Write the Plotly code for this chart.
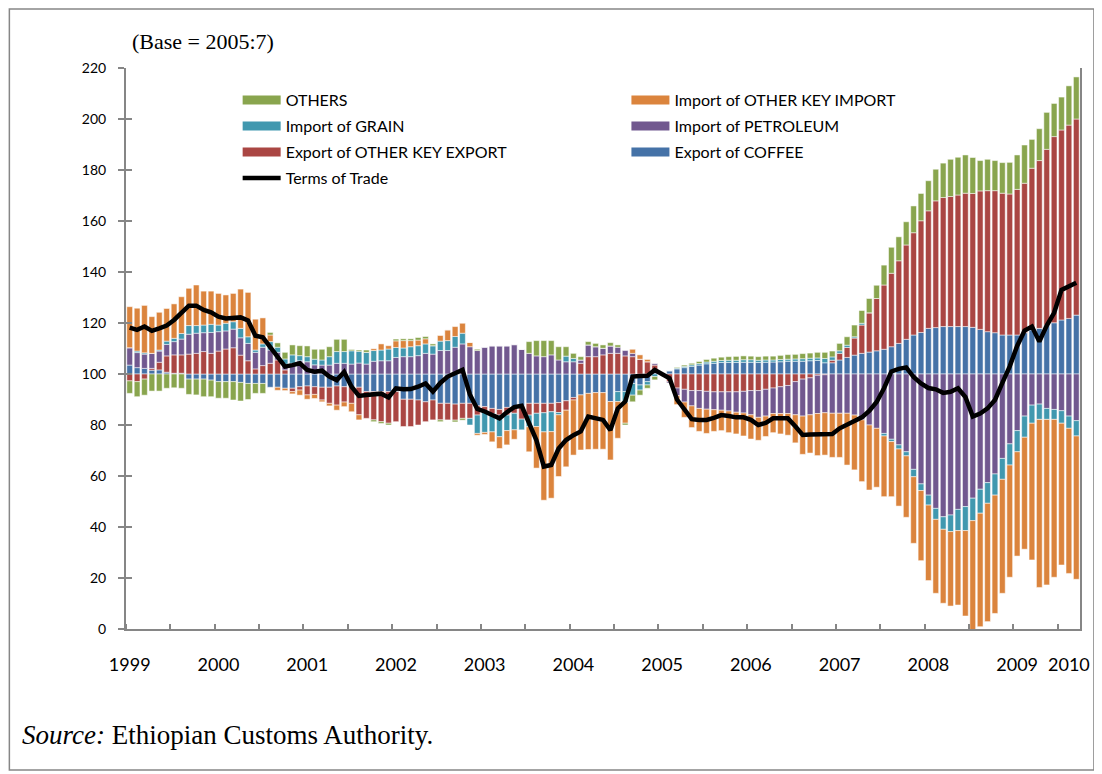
import plotly.graph_objects as go

# Monthly contributions to Terms of Trade (index points), 1999:7 .. 2010:3
coffee = [3.5, 2.5, 2.2, 1.5, 1.6, 0.7, 0.3, 0.3, -2.0, -2.0, -2.0, -2.4, -3.0, -3.0, -3.0, -3.3, -3.7, -3.7, -3.7, -5.2,
          -5.2, -5.6, -5.6, -5.0, -4.7, -5.0, -5.2, -5.2, -4.7, -5.0, -5.0, -5.2, -6.9, -6.9, -6.9, -6.9, -6.9, -9.9, -9.9, -10.2,
          -10.9, -10.2, -11.5, -11.5, -11.8, -11.5, -11.5, -12.5, -12.8, -13.5, -13.9, -13.1, -12.8, -12.5, -11.5, -11.5, -11.5, -11.5, -11.2, -10.5,
          -9.2, -8.2, -7.6, -7.3, -7.3, -10.8, -6.9, -6.9, -3.7, -4.3, -3.0, 0.5, 0.0, 1.2, 2.0, 2.5, 3.0, 3.5, 4.0, 4.2,
          4.5, 4.5, 4.5, 4.6, 4.6, 4.5, 4.6, 4.7, 4.8, 5.0, 5.0, 5.0, 5.2, 5.3, 4.4, 4.4, 5.5, 6.5, 7.4, 8.1,
          8.6, 9.1, 9.7, 10.7, 12.0, 13.6, 15.3, 16.3, 17.9, 18.2, 18.6, 18.6, 18.6, 18.6, 18.3, 17.5, 16.6, 16.2, 15.3, 15.3,
          15.3, 16.2, 17.3, 17.9, 19.2, 20.1, 21.2, 21.8, 23.1]
other_export = [-2.7, -3.0, -2.0, 0.7, 3.0, 6.4, 7.2, 7.2, 7.8, 8.1, 8.8, 8.1, 9.0, 9.8, 10.3, 7.4, 5.2, 2.0, 3.3, 4.2,
                5.5, 1.6, -1.3, -1.3, -3.5, -3.0, -5.0, -6.3, -7.5, -6.0, -6.5, -10.8, -10.5, -11.1, -11.8, -12.4, -11.8, -10.7, -10.7, -9.8,
                -7.8, -7.8, -6.5, -6.5, -6.3, -5.9, -5.9, -3.6, -1.6, -2.0, -2.2, -3.0, -2.6, -5.2, -4.6, -3.9, -3.7, -3.3, -3.9, -3.7,
                -1.0, 4.2, 6.8, 6.8, 7.5, 8.1, 8.1, 7.1, 6.8, 5.8, 4.8, 3.0, 0.0, -3.0, -5.5, -6.0, -6.5, -6.5, -6.8, -7.0,
                -7.0, -7.0, -7.0, -6.8, -6.5, -6.5, -6.0, -5.5, -5.0, -4.5, -3.0, -2.0, -1.5, -0.5, -0.3, 1.0, 2.6, 3.9, 6.7, 11.1,
                15.4, 20.5, 25.2, 28.8, 32.4, 37.0, 40.1, 43.8, 46.1, 49.7, 50.6, 51.0, 51.6, 52.3, 52.5, 54.3, 55.3, 55.7, 55.6, 55.3,
                57.1, 58.6, 63.4, 65.8, 68.9, 73.0, 74.5, 75.8, 76.9]
petroleum = [6.8, 5.9, 5.6, 5.9, 4.4, 4.5, 5.2, 6.2, 7.8, 7.9, 7.4, 8.2, 7.6, 7.1, 7.3, 6.8, 6.8, 6.5, 7.2, 5.2,
             3.0, 2.2, 4.2, 5.2, 4.8, 3.6, 3.5, 3.5, 4.2, 4.2, 3.9, 4.3, 3.9, 5.0, 5.2, 5.2, 6.5, 6.8, 6.8, 7.2,
             8.1, 7.8, 9.2, 9.2, 10.5, 11.8, 10.7, 9.2, 10.5, 11.0, 11.0, 11.0, 11.5, 9.7, 8.1, 7.1, 6.8, 7.5, 5.5, 4.8,
             4.8, 1.3, 4.6, 3.9, 2.6, 2.9, 2.4, 2.1, 1.3, 0.0, 0.0, 0.7, 0.0, -0.5, -3.0, -5.0, -6.0, -7.0, -7.0, -7.0,
             -7.2, -7.5, -8.0, -8.5, -9.5, -10.5, -10.5, -10.0, -10.5, -11.0, -13.0, -14.5, -14.5, -15.0, -14.9, -15.4, -15.4, -15.4, -16.1, -18.0,
             -20.0, -21.3, -23.3, -25.6, -27.8, -30.5, -37.4, -43.1, -47.5, -52.7, -56.0, -55.3, -53.1, -52.0, -48.7, -45.2, -42.6, -39.2, -33.1, -27.4,
             -22.2, -16.5, -12.2, -11.8, -13.5, -13.9, -14.4, -16.5, -18.3]
grain = [0.0, 0.6, 0.5, 0.0, 0.4, 1.3, 1.3, 2.2, 3.4, 3.0, 3.0, 3.2, 2.6, 3.0, 2.9, 3.7, 2.6, 0.9, 1.3, 3.3,
         2.0, 2.1, 3.3, 2.0, 2.0, 2.2, 2.0, 3.3, 4.6, 4.6, 5.2, 4.6, 4.6, 4.2, 4.2, 4.6, 3.9, 3.4, 3.9, 3.9,
         3.7, 3.3, 3.7, 3.9, 4.2, 4.2, -2.6, -7.2, -8.5, -7.2, -8.5, -6.1, -6.5, -4.2, -4.6, -5.2, -7.5, -7.8, -0.9, 2.2,
         1.3, 0.0, 0.0, 0.0, 0.0, 0.0, -3.9, -4.3, -4.6, -2.0, -1.3, -1.0, 0.0, 0.3, 0.3, 0.5, 0.6, 0.6, 0.7, 0.8,
         0.8, 0.9, 0.9, 1.0, 1.0, 0.9, 0.9, 0.8, 0.9, 0.8, 0.9, 1.0, 1.0, 1.0, 1.7, 1.3, 1.0, 0.9, 0.5, 0.7,
         0.0, 0.0, -1.0, -0.9, -1.6, -1.6, -2.9, -2.6, -3.9, -4.3, -4.9, -6.5, -8.3, -9.4, -8.8, -9.4, -8.1, -8.3, -8.2, -8.3,
         -8.3, -8.3, -7.1, -6.0, -4.3, -3.9, -4.9, -4.8, -6.0]
other_import = [16.1, 16.8, 18.6, 14.4, 14.8, 12.8, 13.5, 14.4, 14.6, 15.9, 13.3, 13.0, 12.4, 11.1, 11.1, 15.4, 17.4, 12.1, 10.2, 2.6,
                -1.2, -0.9, -0.9, -2.0, -1.7, -1.6, -0.7, -1.0, -2.0, -1.8, -3.3, -2.0, 0.0, 0.7, 2.4, 1.3, 2.6, 2.9, 2.4, 2.2,
                2.0, 0.0, 2.2, 4.2, 3.9, 3.9, 1.7, -0.7, -0.8, -3.9, -4.6, -5.6, -3.7, 0.0, -9.8, -16.3, -26.8, -26.1, -24.2, -22.2,
                -21.6, -21.6, -22.0, -22.2, -22.2, -22.9, -14.4, -8.1, 1.6, 1.7, 0.9, 0.0, 0.0, 0.0, -3.5, -6.0, -8.5, -9.0, -9.5, -8.5,
                -8.0, -8.5, -8.5, -9.0, -9.5, -9.0, -8.0, -7.5, -8.0, -8.5, -11.0, -15.0, -15.0, -16.5, -16.6, -17.3, -17.3, -20.3, -21.5, -24.2,
                -25.5, -23.1, -23.8, -21.6, -22.4, -24.1, -26.1, -27.5, -29.6, -29.0, -29.0, -29.2, -29.2, -33.5, -43.2, -44.5, -46.4, -46.4, -44.7, -44.0,
                -40.9, -43.9, -53.6, -65.9, -64.9, -61.9, -55.6, -56.9, -56.2]
others = [-4.9, -5.9, -6.3, -6.7, -6.7, -5.6, -5.4, -5.6, -6.0, -6.2, -6.9, -6.5, -6.5, -6.5, -7.2, -7.3, -6.3, -3.9, -3.9, 1.0,
          1.7, 2.6, 3.9, 3.9, 4.2, 3.9, 4.2, 3.9, 4.8, 4.8, 0.5, 0.5, 0.9, -0.7, -0.7, -0.7, 0.7, 0.7, 0.7, 1.0,
          0.9, 0.7, -0.7, 0.0, -0.7, -0.7, 0.0, 0.5, 0.0, 0.0, 0.0, 0.0, 0.0, 0.0, 4.6, 6.0, 6.3, 5.6, 5.2, 3.7,
          2.0, 1.3, 1.3, 1.3, 1.3, 1.3, 0.9, -0.7, -2.6, -2.0, -1.3, -1.3, 0.0, 0.0, 0.3, 0.5, 0.6, 0.8, 1.0, 1.2,
          1.3, 1.4, 1.5, 1.5, 1.4, 1.4, 1.5, 1.5, 1.6, 1.8, 1.8, 2.0, 2.0, 2.2, 2.4, 2.3, 2.9, 3.3, 4.6, 5.0,
          5.6, 5.2, 7.8, 10.2, 9.4, 9.1, 10.5, 10.7, 11.8, 12.4, 13.5, 14.6, 14.8, 15.0, 14.1, 11.9, 12.3, 11.8, 12.0, 12.4,
          13.5, 15.0, 11.3, 12.5, 14.5, 13.0, 12.9, 15.4, 16.5]
terms_of_trade = [118.2, 117.3, 118.6, 116.9, 117.9, 119.0, 121.2, 123.8, 126.8, 126.8, 125.1, 124.2, 122.5, 121.8, 121.8, 122.2, 121.0, 115.0, 114.4, 110.7,
                  107.0, 102.9, 103.5, 104.2, 101.6, 100.9, 101.3, 99.0, 97.6, 100.8, 95.0, 91.4, 91.8, 92.0, 92.3, 90.8, 94.4, 94.0, 94.1, 95.0,
                  96.3, 93.1, 96.5, 99.0, 100.2, 101.6, 92.0, 86.3, 85.3, 84.0, 82.6, 85.0, 87.0, 87.5, 80.5, 74.0, 63.7, 64.3, 70.8, 74.1,
                  76.0, 77.5, 83.3, 82.8, 82.0, 78.0, 86.5, 89.2, 99.0, 99.2, 99.3, 101.6, 100.0, 98.3, 90.0, 86.0, 82.3, 82.0, 82.0, 82.8,
                  83.9, 83.5, 83.0, 83.0, 82.0, 80.0, 80.8, 82.6, 82.6, 82.6, 79.5, 76.1, 76.3, 76.5, 76.5, 76.5, 78.7, 80.0, 81.3, 83.0,
                  85.5, 89.0, 94.4, 101.0, 102.0, 102.6, 98.8, 96.3, 94.5, 94.0, 92.6, 93.0, 94.4, 91.0, 83.3, 84.5, 86.5, 89.8, 96.5, 103.0,
                  111.0, 117.0, 118.6, 112.7, 119.0, 124.0, 133.0, 134.5, 135.8]

year_labels = ["1999", "2000", "2001", "2002", "2003", "2004", "2005", "2006", "2007", "2008", "2009", "2010"]
year_label_pos = [0, 12, 24, 36, 48, 60, 72, 84, 96, 108, 120, 127]
y_tick_labels = ["0", "20", "40", "60", "80", "100", "120", "140", "160", "180", "200", "220"]

BASE = 100
n = len(terms_of_trade)
x = list(range(n))

# page body has an 8px margin: figure is drawn 8px smaller and positions use screen coords of reference
OFF = 8
PL, PR, PT, PB = 126, 1083, 68, 629   # plot area in screen pixels
FIG_W, FIG_H = 1102 - OFF, 774 - OFF


def px_x(p):
    return (p - PL) / (PR - PL)


def px_y(p):
    return (PB - p) / (PB - PT)


series = [
    ("Export of COFFEE", coffee, "#4572A7"),
    ("Export of OTHER KEY EXPORT", other_export, "#AA4643"),
    ("Import of PETROLEUM", petroleum, "#71588F"),
    ("Import of GRAIN", grain, "#4198AF"),
    ("Import of OTHER KEY IMPORT", other_import, "#DB843D"),
    ("OTHERS", others, "#89A54E"),
]

# legend slots (x anchor, row centre y) in reference screen pixels
COL1, COL2 = 238, 628
ROWS = [100, 126, 152, 178]
legend_slot = {
    "OTHERS": (COL1, ROWS[0]),
    "Import of OTHER KEY IMPORT": (COL2, ROWS[0]),
    "Import of GRAIN": (COL1, ROWS[1]),
    "Import of PETROLEUM": (COL2, ROWS[1]),
    "Export of OTHER KEY EXPORT": (COL1, ROWS[2]),
    "Export of COFFEE": (COL2, ROWS[2]),
    "Terms of Trade": (COL1, ROWS[3]),
}
legend_keys = {}
legend_layouts = {}
for k, name in enumerate(legend_slot):
    key = "legend" if k == 0 else "legend%d" % (k + 1)
    legend_keys[name] = key
    lx, ly = legend_slot[name]
    legend_layouts[key] = dict(x=px_x(lx), y=px_y(ly), xanchor="left", yanchor="middle",
                               orientation="v", bgcolor="rgba(0,0,0,0)", itemwidth=38,
                               font=dict(size=16, family="Lato, sans-serif", color="black"))

fig = go.Figure()
for name, vals, color in series:
    fig.add_trace(go.Bar(
        x=x, y=vals, name=name, showlegend=False,
        marker=dict(color=color, line=dict(color="rgba(255,255,255,0.85)", width=0.6)),
    ))
    # legend entry drawn as a wide colour block
    fig.add_trace(go.Scatter(
        x=[None], y=[None], name=name, mode="lines", legend=legend_keys[name],
        line=dict(color=color, width=9),
    ))

fig.add_trace(go.Scatter(
    x=x, y=[v - BASE for v in terms_of_trade], name="Terms of Trade", legend=legend_keys["Terms of Trade"],
    mode="lines", line=dict(color="black", width=4.5),
))
# empty trace that carries the overlay axis used for the inner half of the crossing y ticks
fig.add_trace(go.Scatter(x=[None], y=[None], yaxis="y2", showlegend=False, hoverinfo="skip"))

axis_color = "#868686"
y_tick_vals = [v - BASE for v in range(0, 221, 20)]
fig.update_layout(
    width=FIG_W, height=FIG_H,
    margin=dict(l=PL - OFF, r=FIG_W - (PR - OFF), t=PT - OFF, b=FIG_H - (PB - OFF)),
    barmode="relative", bargap=0.22,
    plot_bgcolor="white", paper_bgcolor="white",
    font=dict(family="Lato, Open Sans, sans-serif", size=14, color="black"),
    showlegend=True,
    yaxis2=dict(overlaying="y", side="left", range=[-100, 120], showgrid=False, zeroline=False,
                showline=False, tickmode="array", tickvals=y_tick_vals, ticks="inside", ticklen=6,
                tickcolor=axis_color, tickwidth=1.5, showticklabels=False),
    **legend_layouts,
)
fig.update_xaxes(
    range=[-0.5, n - 0.5], showgrid=False, zeroline=False,
    showline=True, linecolor=axis_color, linewidth=2,
    tickmode="array", tickvals=year_label_pos, ticktext=year_labels, ticks="",
    ticklabelstandoff=18, tickfont=dict(size=18),
    minor=dict(tickmode="array", tickvals=[-0.5 + 6 * k for k in range(22)],
               ticks="inside", ticklen=5, tickcolor=axis_color, tickwidth=1.5, showgrid=False),
)
fig.update_yaxes(
    selector=dict(anchor="x"),
    range=[-100, 120], showgrid=False, zeroline=False,
    showline=True, linecolor=axis_color, linewidth=2, mirror=True,
    tickmode="array", tickvals=y_tick_vals, ticktext=y_tick_labels,
    ticks="outside", ticklen=6, tickcolor=axis_color, tickwidth=1.5,
    ticklabelstandoff=9, tickfont=dict(size=14),
)
fig.layout.yaxis.update(range=[-100, 120], showgrid=False, zeroline=False,
                        showline=True, linecolor=axis_color, linewidth=2, mirror=True,
                        tickmode="array", tickvals=y_tick_vals, ticktext=y_tick_labels,
                        ticks="outside", ticklen=6, tickcolor=axis_color, tickwidth=1.5,
                        ticklabelstandoff=9, tickfont=dict(size=14))

fig.add_annotation(xref="paper", yref="paper", x=px_x(130), y=px_y(42), xanchor="left", yanchor="middle",
                   text="(Base = 2005:7)", showarrow=False,
                   font=dict(family="Liberation Serif, Times New Roman, serif", size=22))
fig.add_annotation(xref="paper", yref="paper", x=px_x(20), y=px_y(735), xanchor="left", yanchor="middle",
                   text="<i>Source:</i> Ethiopian Customs Authority.", showarrow=False,
                   font=dict(family="Liberation Serif, Times New Roman, serif", size=27))
fig.add_shape(type="rect", xref="paper", yref="paper",
              x0=px_x(9), x1=px_x(1097), y0=px_y(770), y1=px_y(9),
              line=dict(color=axis_color, width=1.5), fillcolor="rgba(0,0,0,0)", layer="below")

fig.write_html("out.html")
